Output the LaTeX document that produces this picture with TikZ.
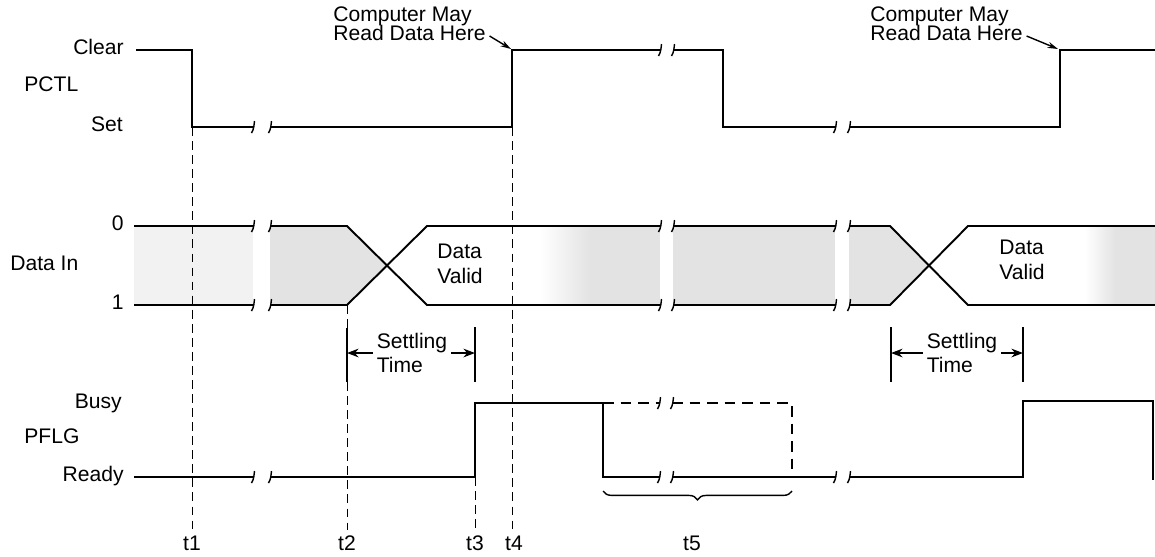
\documentclass[tikz,border=0pt]{standalone}
\usepackage{fontspec}
\setmainfont{Liberation Sans}
\usetikzlibrary{arrows.meta, positioning, decorations.pathreplacing}

% small break mark on a signal line
\newcommand\gapmark[2]{%
  \draw[line width=0.8pt] (#1-1.5,#2+6) .. controls (#1+1,#2+2) and (#1+1,#2-2) .. (#1+1.5,#2-6);}

\begin{document}
\begin{tikzpicture}[
  x=0.02cm, y=-0.02cm,
  every node/.style={font=\fontsize{12}{14}\selectfont, inner sep=0pt},
  >=Stealth,
  sig/.style={line width=1.1pt},
  guide/.style={line width=0.45pt, dash pattern=on 5pt off 3pt},
  bar/.style={line width=1.2pt},
  stip/.style={fill=gray!22, draw=none},
  note/.style={font=\fontsize{12}{10.5}\selectfont, anchor=mid west}
]
\useasboundingbox (0,0) rectangle (1155,556);

% signal names
\node[anchor=mid east] (clear) at (124,50) {Clear};
\node[anchor=mid west] (pctl) at (24,87) {PCTL};
\node[anchor=mid east] (set) at (123,127) {Set};
\node[anchor=mid east] (zero) at (124,226) {0};
\node[anchor=mid west] (datain) at (10,266) {Data In};
\node[anchor=mid east] (one) at (124,305) {1};
\node[anchor=mid east] (busy) at (122,404) {Busy};
\node[anchor=mid west] (pflg) at (24,439) {PFLG};
\node[anchor=mid east] (ready) at (124,477) {Ready};

% Data In stipple
\fill[gray!10] (134,226) rectangle (253,305);
\fill[stip] (270,226) -- (347,226) -- (387,266) -- (347,305) -- (270,305) -- cycle;
\shade[left color=white, right color=gray!22] (540,226) rectangle (590,305);
\fill[stip] (590,226) rectangle (660,305);
\fill[stip] (673,226) rectangle (835,305);
\fill[stip] (849,226) -- (890,226) -- (929,266) -- (890,305) -- (849,305) -- cycle;
\shade[left color=white, right color=gray!22] (1085,226) rectangle (1115,305);
\fill[stip] (1115,226) rectangle (1155,305);

% guide lines
\draw[guide] (192,127) -- (192,530);
\draw[guide] (347,305) -- (347,328);
\draw[guide] (347,382) -- (347,530);
\draw[guide] (475,477) -- (475,530);
\draw[guide] (512,127) -- (512,530);

% PCTL
\draw[sig] (136,50) -- (192,50) -- (192,127) -- (253,127);
\gapmark{253}{127} \gapmark{270}{127}
\draw[sig] (270,127) -- (512,127) -- (512,50) -- (660,50);
\gapmark{660}{50} \gapmark{673}{50}
\draw[sig] (673,50) -- (723,50) -- (723,127) -- (835,127);
\gapmark{835}{127} \gapmark{849}{127}
\draw[sig] (849,127) -- (1060,127) -- (1060,50) -- (1155,50);

% Data In
\draw[sig] (134,226) -- (253,226);
\draw[sig] (134,305) -- (253,305);
\gapmark{253}{226} \gapmark{270}{226}
\gapmark{253}{305} \gapmark{270}{305}
\draw[sig] (270,226) -- (347,226) -- (427,305) -- (660,305);
\draw[sig] (270,305) -- (347,305) -- (427,226) -- (660,226);
\gapmark{660}{226} \gapmark{673}{226}
\gapmark{660}{305} \gapmark{673}{305}
\draw[sig] (673,226) -- (835,226);
\draw[sig] (673,305) -- (835,305);
\gapmark{835}{226} \gapmark{849}{226}
\gapmark{835}{305} \gapmark{849}{305}
\draw[sig] (849,226) -- (890,226) -- (968,305) -- (1155,305);
\draw[sig] (849,305) -- (890,305) -- (968,226) -- (1155,226);

\node[align=left, anchor=west] (validA) at (437,264) {Data\\Valid};
\node[align=left, anchor=west] (validB) at (999,260) {Data\\Valid};

% PFLG
\draw[sig] (134,477) -- (253,477);
\gapmark{253}{477} \gapmark{270}{477}
\draw[sig] (270,477) -- (475,477) -- (475,403) -- (603,403) -- (603,477) -- (659,477);
\gapmark{659}{477} \gapmark{672}{477}
\draw[sig] (672,477) -- (835,477);
\gapmark{835}{477} \gapmark{849}{477}
\draw[sig] (849,477) -- (1023,477) -- (1023,401) -- (1153,401) -- (1153,480);
\draw[sig, dash pattern=on 6pt off 4pt] (603,403) -- (659,403);
\gapmark{659}{403} \gapmark{672}{403}
\draw[sig, dash pattern=on 6pt off 4pt] (672,403) -- (792,403) -- (792,477);
\draw[decorate, decoration={brace, amplitude=5pt, mirror}, line width=0.8pt]
  (603,491) -- (792,491);

% settling time
\coordinate (barA) at (347,353);
\coordinate (barB) at (475,353);
\coordinate (barC) at (891,353);
\coordinate (barD) at (1023,353);
\draw[bar] (347,328) -- (347,382);
\draw[bar] (475,327) -- (475,382);
\draw[bar] (891,327) -- (891,382);
\draw[bar] (1023,327) -- (1023,382);
\node[align=left, anchor=west, inner xsep=2pt] (settleA) at (373,353) {Settling\\Time};
\node[align=left, anchor=west, inner xsep=2pt] (settleB) at (923,353) {Settling\\Time};
\draw[->, line width=0.8pt] (settleA.west) -- (barA);
\draw[->, line width=0.8pt] (settleA.east |- barB) -- (barB);
\draw[->, line width=0.8pt] (settleB.west) -- (barC);
\draw[->, line width=0.8pt] (settleB.east |- barD) -- (barD);

% read notes
\coordinate (edgeA) at (511,49);
\coordinate (edgeB) at (1058,49);
\node[note] (mayA) at (333,17) {Computer May};
\node[note] (readA) at (333,36) {Read Data Here};
\node[note] (mayB) at (870,17) {Computer May};
\node[note] (readB) at (870,36) {Read Data Here};
\draw[-{Stealth[length=6pt, width=3.5pt]}, line width=0.8pt]
  ([xshift=2pt]readA.mid east) -- (edgeA);
\draw[-{Stealth[length=6pt, width=3.5pt]}, line width=0.8pt]
  ([xshift=2pt]readB.mid east) -- (edgeB);

% time marks
\node[anchor=mid] (tA) at (192,546) {t1};
\node[anchor=mid] (tB) at (347,546) {t2};
\node[anchor=mid] (tC) at (475,546) {t3};
\node[anchor=mid] (tD) at (514,546) {t4};
\node[anchor=mid] (tE) at (692,546) {t5};

\end{tikzpicture}
\end{document}
